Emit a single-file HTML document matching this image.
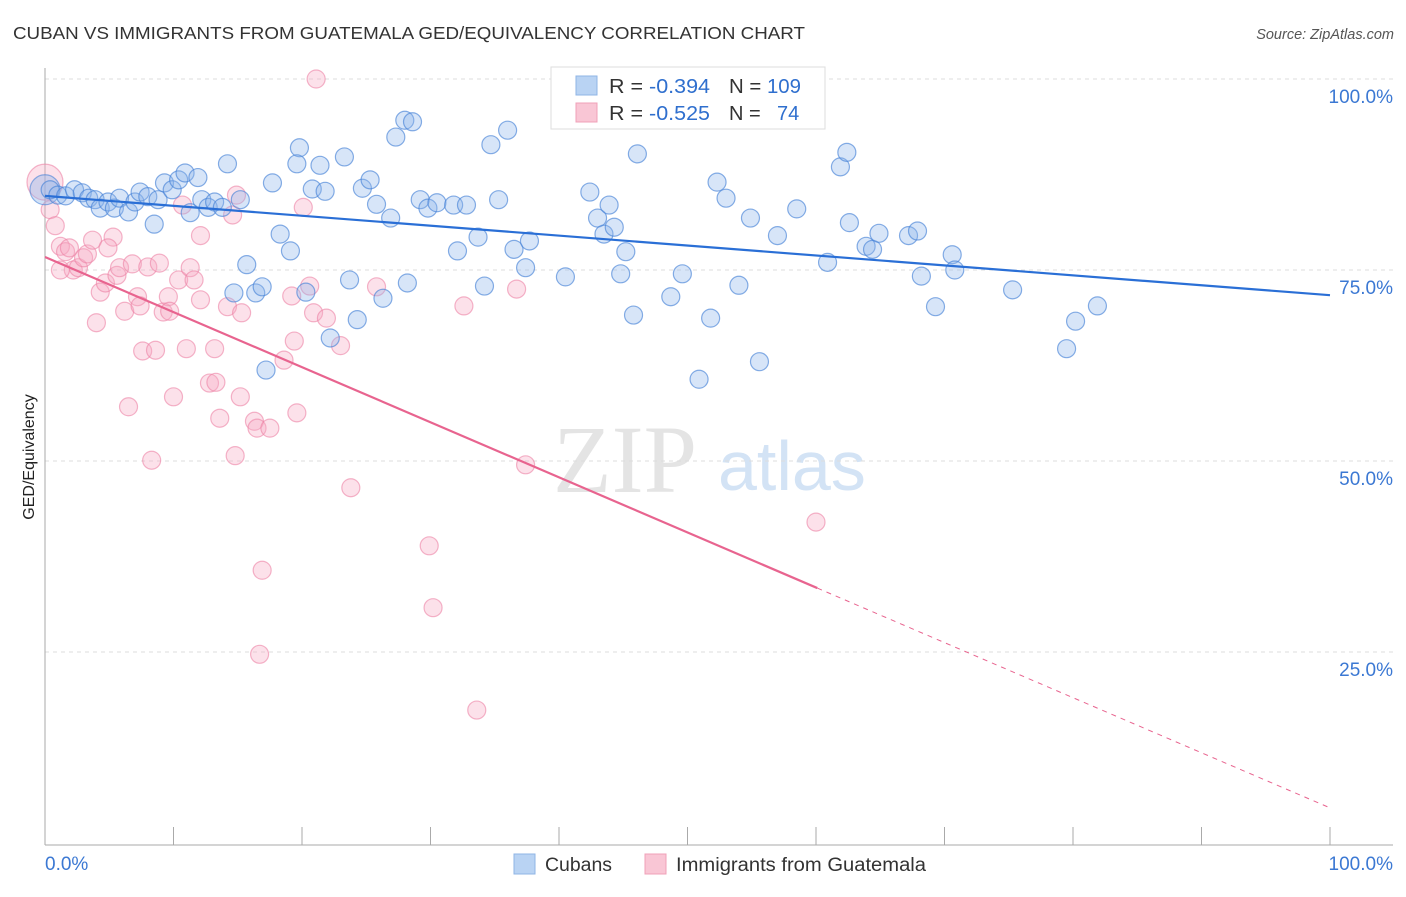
<!DOCTYPE html>
<html><head><meta charset="utf-8"><style>
body{margin:0;background:#fff;font-family:"Liberation Sans",sans-serif}
svg text{font-family:"Liberation Sans",sans-serif}
</style></head><body>
<svg id="chart" width="1406" height="892" viewBox="0 0 1406 892">
<text x="13" y="39" font-size="17.5" fill="#333" textLength="792" lengthAdjust="spacingAndGlyphs">CUBAN VS IMMIGRANTS FROM GUATEMALA GED/EQUIVALENCY CORRELATION CHART</text>
<text x="1394" y="39" font-size="14.5" fill="#555" font-style="italic" text-anchor="end">Source: ZipAtlas.com</text>
<text transform="translate(34,457) rotate(-90)" font-size="16" fill="#222" text-anchor="middle">GED/Equivalency</text>
<g>
<text x="553" y="492" font-size="96" font-family="Liberation Serif" fill="#e4e4e4" style="font-family:'Liberation Serif',serif">ZIP</text>
<text x="718" y="490" font-size="70" fill="#d3e3f5">atlas</text>
</g>
<g id="grid"></g>
<g id="axes"></g>
<g id="pinkPts"></g>
<g id="bluePts"></g>
<g id="trends"></g>
<g>
<rect x="551" y="67" width="274" height="62" fill="#fff" stroke="#ddd"/>
<rect x="576" y="76" width="21" height="19" fill="#b9d3f3" stroke="#8fb4e6"/>
<rect x="576" y="103" width="21" height="19" fill="#f9c6d5" stroke="#f0a0b8"/>
<text x="609" y="93" font-size="20" fill="#333" textLength="101" lengthAdjust="spacingAndGlyphs">R = <tspan fill="#2f6fce">-0.394</tspan></text>
<text x="729" y="93" font-size="20" fill="#333" textLength="72" lengthAdjust="spacingAndGlyphs">N = <tspan fill="#2f6fce">109</tspan></text>
<text x="609" y="120" font-size="20" fill="#333" textLength="101" lengthAdjust="spacingAndGlyphs">R = <tspan fill="#2f6fce">-0.525</tspan></text>
<text x="729" y="120" font-size="20" fill="#333">N = </text>
<text x="777" y="120" font-size="20" fill="#2f6fce">74</text>
</g>
<g>
<rect x="514" y="854" width="21" height="20" fill="#b9d3f3" stroke="#8fb4e6"/>
<text x="545" y="871" font-size="19" fill="#333" textLength="67" lengthAdjust="spacingAndGlyphs">Cubans</text>
<rect x="645" y="854" width="21" height="20" fill="#f9c6d5" stroke="#f0a0b8"/>
<text x="676" y="871" font-size="19" fill="#333" textLength="250" lengthAdjust="spacingAndGlyphs">Immigrants from Guatemala</text>
</g>
</svg>
<script>
const yTicks=[100,75,50,25];
const yTickLabels=["100.0%","75.0%","50.0%","25.0%"];
const xTickCount=10;
const cubanX=[0.4,1.0,1.6,2.3,2.9,3.4,3.9,4.3,4.9,5.4,5.8,6.5,7.0,7.4,8.0,8.5,8.8,9.3,9.9,10.4,10.9,11.3,11.9,12.2,12.7,13.2,13.8,14.2,14.7,15.2,15.7,16.4,16.9,17.2,17.7,18.3,19.1,19.8,19.6,20.3,20.8,21.4,21.8,22.2,23.3,23.7,24.3,24.7,25.3,25.8,26.3,26.9,27.3,28.0,28.6,28.2,29.2,29.8,30.5,31.8,32.1,32.8,33.7,34.2,34.7,35.3,36.0,36.5,37.4,37.7,40.5,42.4,43.0,43.5,43.9,44.3,44.8,45.2,45.8,46.1,48.7,49.6,51.8,50.9,52.3,53.0,54.0,54.9,55.6,57.0,58.5,60.9,61.9,62.4,62.6,63.9,64.4,64.9,67.2,67.9,68.2,69.3,70.6,70.8,75.3,79.5,80.2,81.9];
const cubanY=[85.5,84.8,84.7,85.5,85.1,84.4,84.2,83.1,83.9,83.1,84.4,82.6,83.9,85.2,84.6,81.0,84.2,86.4,85.5,86.8,87.7,82.5,87.1,84.2,83.2,83.9,83.2,88.9,72.0,84.2,75.7,72.0,72.8,61.9,86.4,79.7,77.5,91.0,88.9,72.1,85.6,88.7,85.3,66.1,89.8,73.7,68.5,85.7,86.8,83.6,71.3,81.8,92.4,94.6,94.4,73.3,84.2,83.1,83.8,83.5,77.5,83.5,79.3,72.9,91.4,84.2,93.3,77.7,75.3,78.8,74.1,85.2,81.8,79.7,83.5,80.6,74.5,77.4,69.1,90.2,71.5,74.5,68.7,60.7,86.5,84.4,73.0,81.8,63.0,79.5,83.0,76.0,88.5,90.4,81.2,78.1,77.7,79.8,79.5,80.1,74.2,70.2,77.0,75.0,72.4,64.7,68.3,70.3];
const guatX=[0.4,0.8,1.2,1.6,1.9,2.2,2.6,3.0,3.3,3.7,4.0,4.3,4.7,5.3,5.6,5.8,6.2,6.5,6.8,7.2,7.4,7.6,8.0,8.3,8.6,8.9,9.2,9.6,9.7,10.0,10.4,10.7,11.0,11.3,11.6,12.1,12.8,13.3,13.2,13.6,14.2,14.6,14.8,14.9,15.2,15.3,16.3,16.5,16.9,16.7,17.5,18.6,19.2,19.4,19.6,20.1,20.6,20.9,21.1,21.9,23.0,23.8,25.8,29.9,30.2,32.6,33.6,36.7,37.4,60.0,1.2,4.9,12.1];
const guatY=[82.9,80.8,78.1,77.4,77.9,75.0,75.3,76.6,77.1,78.9,68.1,72.1,73.3,79.3,74.3,75.3,69.6,57.1,75.8,71.5,70.3,64.4,75.4,50.1,64.5,75.9,69.5,71.5,69.6,58.4,73.7,83.5,64.7,75.3,73.7,79.5,60.2,60.3,64.7,55.6,70.2,82.2,50.7,84.8,58.4,69.4,55.2,54.3,35.7,24.7,54.3,63.2,71.6,65.7,56.3,83.2,72.9,69.4,100.0,68.7,65.1,46.5,72.8,38.9,30.8,70.3,17.4,72.5,49.5,42.0,75.0,77.9,71.1];
const cubanBig=[0,85.5];
const guatBig=[0,86.5];
const cubanTrend=[84.7,71.7];
const guatTrend=[76.7,4.6];
const guatSolidEnd=60.1;

const NS="http://www.w3.org/2000/svg";
const X0=45,X1=1330,Y0=843,Y100=79;
function sx(v){return X0+(X1-X0)*v/100;}
function sy(v){return Y0-(Y0-Y100)*v/100;}
function mk(tag,attrs,parent){const e=document.createElementNS(NS,tag);for(const k in attrs)e.setAttribute(k,attrs[k]);parent.appendChild(e);return e;}
const grid=document.getElementById('grid'),axes=document.getElementById('axes');
yTicks.forEach((t,i)=>{
  const l=mk('line',{x1:X0,x2:1393,y1:sy(t),y2:sy(t),stroke:'#ddd','stroke-dasharray':'4,4'},grid);
  
  
  const tx=mk('text',{x:1393,y:sy(t)+24,'font-size':19,fill:'#3b78d3','text-anchor':'end'},axes);
  tx.textContent=yTickLabels[i];
  
  
});
let a=mk('line',{x1:X0,x2:X0,y1:68,y2:845,stroke:'#aaa'},axes);


a=mk('line',{x1:X0,x2:1393,y1:845,y2:845,stroke:'#aaa'},axes);


for(let i=0;i<=xTickCount;i++){
  const t=mk('line',{x1:sx(i*10),x2:sx(i*10),y1:827,y2:845,stroke:'#aaa'},axes);
  
  
}
let xl=mk('text',{x:45,y:870,'font-size':19,fill:'#3b78d3'},axes);xl.textContent='0.0%';


xl=mk('text',{x:1393,y:870,'font-size':19,fill:'#3b78d3','text-anchor':'end'},axes);xl.textContent='100.0%';



const pp=document.getElementById('pinkPts'),bp=document.getElementById('bluePts');
let big=mk('circle',{cx:sx(guatBig[0]),cy:sy(guatBig[1]),r:18,fill:'rgba(246,170,195,0.35)',stroke:'rgba(236,130,165,0.6)','stroke-width':1.2},pp);


guatX.forEach((x,i)=>{
  const c=mk('circle',{cx:sx(x),cy:sy(guatY[i]),r:9,fill:'rgba(246,170,195,0.35)',stroke:'rgba(236,130,165,0.6)','stroke-width':1.2},pp);
  
  
});
big=mk('circle',{cx:sx(cubanBig[0]),cy:sy(cubanBig[1]),r:15,fill:'rgba(140,180,235,0.4)',stroke:'rgba(70,130,215,0.6)','stroke-width':1.2},bp);


cubanX.forEach((x,i)=>{
  const c=mk('circle',{cx:sx(x),cy:sy(cubanY[i]),r:9,fill:'rgba(140,180,235,0.35)',stroke:'rgba(70,130,215,0.65)','stroke-width':1.2},bp);
  
  
});
const tr=document.getElementById('trends');
function ty(tt,x){return tt[0]+(tt[1]-tt[0])*x/100;}
let ln=mk('line',{x1:sx(0),y1:sy(cubanTrend[0]),x2:sx(100),y2:sy(cubanTrend[1]),stroke:'#2a6fd6','stroke-width':2.2},tr);


ln=mk('line',{x1:sx(0),y1:sy(guatTrend[0]),x2:sx(guatSolidEnd),y2:sy(ty(guatTrend,guatSolidEnd)),stroke:'#e8648f','stroke-width':2.2},tr);


ln=mk('line',{x1:sx(guatSolidEnd),y1:sy(ty(guatTrend,guatSolidEnd)),x2:sx(100),y2:sy(guatTrend[1]),stroke:'#e8648f','stroke-width':1,'stroke-dasharray':'5,5'},tr);


</script>
</body></html>
